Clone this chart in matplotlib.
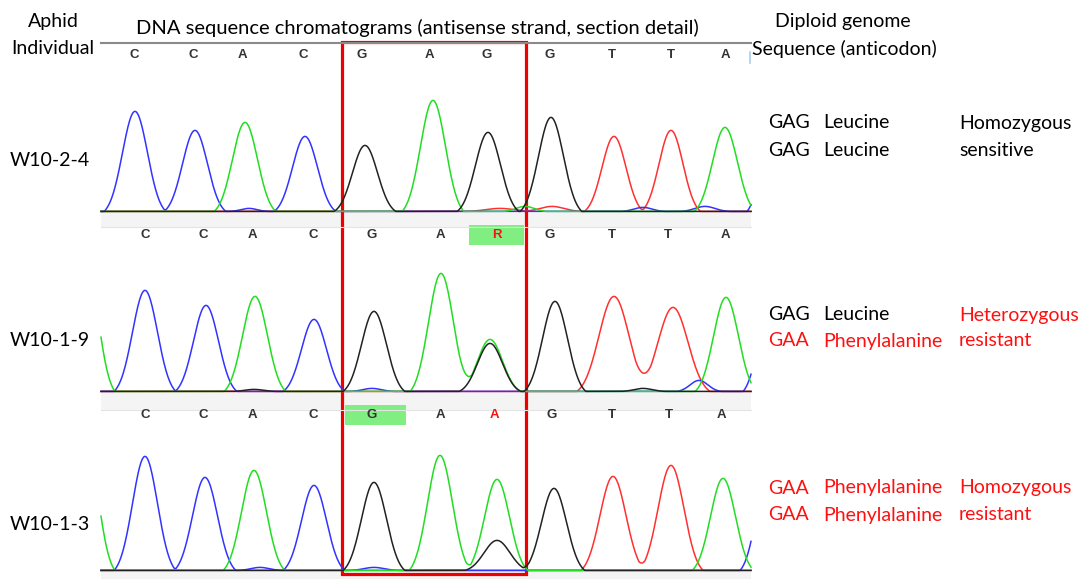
import matplotlib.pyplot as plt
import numpy as np
from matplotlib.patches import Rectangle

W, H = 1081, 579

# peaks: scan position, height, width, channel
w1024_pos = [135, 195, 245, 249, 305, 365, 433, 488, 500, 525, 551, 552, 614, 643, 671, 705, 725, 778]
w1024_height = [100, 81, 89, 3, 75, 66, 111, 79, 3, 5, 94, 5, 75, 4, 81, 5, 84, 130]
w1024_width = [12.5, 12.5, 12.5, 8, 12.5, 12.5, 12.5, 12.5, 14, 9, 12.5, 12, 12, 9, 12, 10, 12.5, 12.5]
w1024_base = ['C', 'C', 'A', 'C', 'C', 'G', 'A', 'G', 'T', 'A', 'G', 'T', 'T', 'C', 'T', 'C', 'A', 'C']

w1019_pos = [84, 145, 206, 254, 255, 314, 372, 374, 441, 490, 490, 555, 614, 643, 673, 699, 726, 774]
w1019_height = [148, 101, 86, 2, 95, 72, 3, 80, 118, 48, 52, 90, 95, 3, 84, 11, 94, 120]
w1019_width = [12.5, 12.5, 12.5, 9, 12.5, 12.5, 9, 12.5, 12.5, 12.5, 12.5, 12.5, 15, 9, 15, 9, 12.5, 12.5]
w1019_base = ['A', 'C', 'C', 'G', 'A', 'C', 'C', 'G', 'A', 'G', 'A', 'G', 'T', 'G', 'T', 'C', 'A', 'C']

w1013_pos = [84, 145, 205, 254, 260, 314, 374, 374, 440, 497, 497, 554, 613, 671, 723, 771]
w1013_height = [148, 114, 93, 100, 3, 85, 88, 3, 115, 91, 30, 82, 94, 105, 92, 120]
w1013_width = [12.5, 12.5, 12.5, 12.5, 9, 12.5, 12.5, 10, 12.5, 12.5, 13, 12.5, 13, 13, 12.5, 12.5]
w1013_base = ['A', 'C', 'C', 'A', 'C', 'C', 'G', 'C', 'A', 'A', 'G', 'G', 'T', 'T', 'A', 'C']

# base calls above each trace
calls1 = ['C', 'C', 'A', 'C', 'G', 'A', 'G', 'G', 'T', 'T', 'A']
calls1_x = [134, 193, 242, 303, 362, 429, 487, 550, 612, 671, 725]
calls2 = ['C', 'C', 'A', 'C', 'G', 'A', 'R', 'G', 'T', 'T', 'A']
calls2_x = [145, 203, 252, 313, 372, 440, 497, 550, 612, 668, 725]
calls3 = ['C', 'C', 'A', 'C', 'G', 'A', 'A', 'G', 'T', 'T', 'A']
calls3_x = [145, 203, 252, 313, 372, 440, 494, 552, 612, 669, 721]

samples = ['W10-2-4', 'W10-1-9', 'W10-1-3']
codons = [('GAG', 'GAG'), ('GAG', 'GAA'), ('GAA', 'GAA')]
amino = [('Leucine', 'Leucine'), ('Leucine', 'Phenylalanine'),
         ('Phenylalanine', 'Phenylalanine')]
status = [('Homozygous', 'sensitive'), ('Heterozygous', 'resistant'),
          ('Homozygous', 'resistant')]

channel_color = {'A': '#22dd22', 'C': '#3333ff', 'G': '#222222', 'T': '#ff3030'}
RED = '#ff1010'
FONT = 'Lato'
FS = 14


def trace(x, pos, height, width, base, ch):
    # gaussian peaks, trimmed so they meet the baseline like the sequencer's traces
    y = np.zeros_like(x)
    for p, h, w, b in zip(pos, height, width, base):
        if b == ch:
            g = 1.05 * np.exp(-(x - p) ** 2 / (2 * w ** 2)) - 0.05
            y += h * np.clip(g, 0, None)
    return y


fig = plt.figure(figsize=(W / 100, H / 100), dpi=100)
ov = fig.add_axes([0, 0, 1, 1])
ov.set_xlim(0, W)
ov.set_ylim(H, 0)
ov.axis('off')

baselines = [212, 392, 571]
bands = [(212, 227), (392, 410), (571, 579)]
x0, x1 = 101, 751

for (b0, b1) in bands:
    ov.add_patch(Rectangle((x0, b0), x1 - x0, b1 - b0, fc='#f4f4f4', ec='none'))
    ov.plot([x0, x1], [b1, b1], color='#e4e4e4', lw=0.8)

traces = [(w1024_pos, w1024_height, w1024_width, w1024_base),
          (w1019_pos, w1019_height, w1019_width, w1019_base),
          (w1013_pos, w1013_height, w1013_width, w1013_base)]
xs = np.linspace(x0, x1, 1300)
for i, (pos, hgt, wid, base) in enumerate(traces):
    ax = fig.add_axes([x0 / W, 1 - baselines[i] / H, (x1 - x0) / W, 125 / H])
    ax.set_xlim(x0, x1)
    ax.set_ylim(0, 125)
    ax.axis('off')
    for ch in ['T', 'C', 'A', 'G']:
        ax.plot(xs, trace(xs, pos, hgt, wid, base, ch) + 0.6,
                color=channel_color[ch], lw=1.1, clip_on=False)

# header
ov.plot([x0, x1], [43, 43], color='#8a8a8a', lw=1.5)
ov.text(53, 21, 'Aphid', ha='center', va='center', fontsize=FS, family=FONT)
ov.text(53, 49, 'Individual', ha='center', va='center', fontsize=FS, family=FONT)
ov.text(417, 28, 'DNA sequence chromatograms (antisense strand, section detail)',
        ha='center', va='center', fontsize=14.5, family=FONT)
ov.text(843, 21, 'Diploid genome', ha='center', va='center', fontsize=FS, family=FONT)
ov.text(844, 49, 'Sequence (anticodon)', ha='center', va='center', fontsize=FS, family=FONT)
ov.plot([750, 750], [52, 63], color='#a8d0f0', lw=1.2)

# highlighted calls
ov.add_patch(Rectangle((469, 225), 55, 20, fc='#80ee80', ec='none'))
ov.add_patch(Rectangle((345, 405), 61, 20, fc='#80ee80', ec='none'))

call_rows = [(calls1, calls1_x, 55), (calls2, calls2_x, 235), (calls3, calls3_x, 415)]
for r, (calls, cx, cy) in enumerate(call_rows):
    for j, (c, x) in enumerate(zip(calls, cx)):
        col = '#333333'
        if r > 0 and j == 6:
            col = RED
        ov.text(x, cy, c, ha='center', va='center', fontsize=9.5,
                fontweight='bold', color=col, family='Liberation Sans')

label_y = [160, 340, 524]
rows_y = [(123, 151), (315, 341), (488, 515)]
for i in range(3):
    ov.text(10, label_y[i], samples[i], ha='left', va='center', fontsize=FS, family=FONT)
    for k in range(2):
        y = rows_y[i][k]
        col = RED if codons[i][k] == 'GAA' else 'black'
        ov.text(768, y, codons[i][k], ha='left', va='center', fontsize=FS,
                color=col, family=FONT)
        ov.text(823, y, amino[i][k], ha='left', va='center', fontsize=FS,
                color=col, family=FONT)
        scol = 'black' if i == 0 else RED
        ov.text(959, y, status[i][k], ha='left', va='center', fontsize=FS,
                color=scol, family=FONT)

# red frame around the codon
ov.add_patch(Rectangle((342, 42), 184, 532, fc='none', ec='#ee0000', lw=2.3))

fig.savefig('out.png', dpi=100)
